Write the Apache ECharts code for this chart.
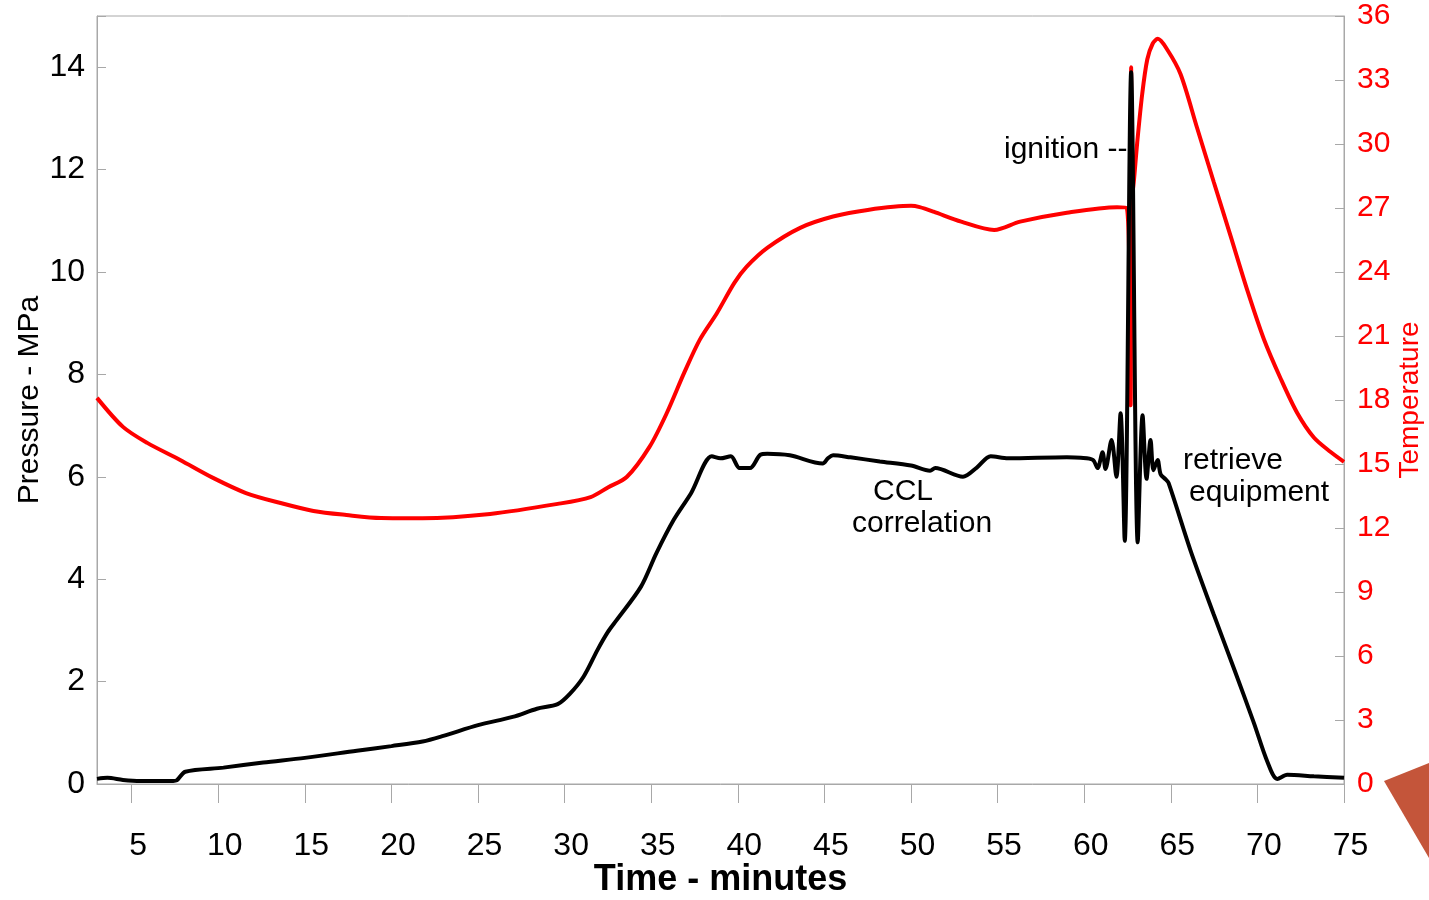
<!DOCTYPE html>
<html lang="en">

<head>
    <meta http-equiv="Content-Type" content="text/html;charset=UTF-8">
    <title>pressure and temperature</title>
    <script src="https://cdn.jsdelivr.net/npm/echarts@6/dist/echarts.min.js"></script>
    <style type="text/css">
        body {
            margin: 0;
        }

        #main {
            height: 900px;
            width: 1429px;
        }
    </style>
</head>

<body>
    <div id="main"></div>
</body>
<script>
    // minutes / MPa, black line
    var pressureTime = [3.0, 3.6, 4.5, 5.5, 7.4, 7.6, 8.1, 10.3, 12.6, 15.0, 18.0, 20.0, 21.8, 23.0, 25.0, 27.0, 28.4, 29.6, 30.3, 31.1,
        31.9, 32.5, 33.0, 34.4, 35.3, 36.3, 37.3, 38.5, 39.0, 39.6, 40.1, 40.7, 41.3, 41.7, 43.0, 44.9, 45.2, 45.5, 46.5, 48.2,
        50.0, 51.1, 51.4, 53.0, 53.8, 54.6, 55.6, 59.0, 59.8, 60.5, 60.77, 61.06, 61.23, 61.58, 61.86, 62.1, 62.34, 62.71, 63.09, 63.37,
        63.6, 63.83, 64.0, 64.24, 64.41, 64.7, 64.87, 66.14, 67.48, 68.64, 69.79, 70.57, 71.15, 71.72, 73.26, 75.0];
    var pressureVal = [0.10, 0.12, 0.08, 0.06, 0.06, 0.07, 0.24, 0.32, 0.42, 0.51, 0.65, 0.74, 0.83, 0.94, 1.15, 1.31, 1.47, 1.56, 1.76, 2.10,
        2.62, 2.97, 3.20, 3.85, 4.51, 5.16, 5.68, 6.40, 6.36, 6.40, 6.17, 6.17, 6.43, 6.45, 6.42, 6.26, 6.36, 6.42, 6.38, 6.30,
        6.22, 6.12, 6.17, 6.00, 6.18, 6.40, 6.36, 6.38, 6.37, 6.33, 6.17, 6.48, 6.15, 6.72, 6.00, 7.24, 4.75, 13.9, 4.72, 7.20,
        5.96, 6.72, 6.13, 6.33, 6.05, 5.95, 5.88, 4.56, 3.31, 2.26, 1.20, 0.44, 0.10, 0.18, 0.15, 0.12];

    // minutes / temperature, red line
    var tempTime = [3.0, 4.5, 5.9, 7.8, 9.7, 11.6, 13.6, 15.5, 17.4, 19.4, 21.8, 25.7, 29.6, 31.5, 32.5, 33.6, 34.9, 35.9, 36.9, 37.8,
        38.8, 39.8, 40.5, 41.7, 43.6, 45.5, 47.5, 50.0, 50.5, 51.3, 52.9, 54.8, 56.3, 59.0, 61.9, 62.45, 62.68, 62.71, 62.75, 62.86,
        63.06, 63.35, 63.64, 63.95, 64.25, 64.79, 65.56, 66.52, 67.48, 68.45, 69.41, 70.37, 71.34, 72.3, 73.26, 74.23, 75.0];
    var tempVal = [18.1, 16.74, 15.99, 15.19, 14.35, 13.64, 13.17, 12.8, 12.61, 12.47, 12.46, 12.66, 13.13, 13.45, 13.9, 14.4, 15.8, 17.39, 19.27, 20.82,
        22.08, 23.49, 24.24, 25.13, 26.07, 26.6, 26.91, 27.1, 27.04, 26.83, 26.36, 25.97, 26.36, 26.78, 27.04, 27.02, 17.75, 33.6, 27.5, 28.2,
        30.06, 32.35, 33.96, 34.7, 34.93, 34.43, 33.28, 30.75, 28.22, 25.69, 23.16, 20.86, 19.01, 17.39, 16.24, 15.56, 15.1];

    var timeTicks = [5, 10, 15, 20, 25, 30, 35, 40, 45, 50, 55, 60, 65, 70, 75];

    var zip = function (xs, ys) {
        var res = [];
        for (var i = 0; i < xs.length; i++) {
            res.push([xs[i], ys[i]]);
        }
        return res;
    };

    var font = 'Liberation Sans, Arial, Helvetica, sans-serif';
    var axisGray = '#a8a8a8';

    option = {
        backgroundColor: '#fff',
        animation: false,
        textStyle: {
            fontFamily: font
        },
        grid: {
            left: 97,
            right: 85,
            top: 16,
            bottom: 116,
            outerBoundsMode: 'none',
            show: true,
            borderColor: axisGray,
            borderWidth: 1
        },
        xAxis: {
            type: 'value',
            min: 3,
            max: 75,
            name: 'Time - minutes',
            nameLocation: 'middle',
            nameGap: 78,
            nameMoveOverlap: false,
            nameTextStyle: {
                fontSize: 36,
                fontWeight: 'bold',
                color: '#000'
            },
            axisLine: {
                show: true,
                lineStyle: { color: axisGray }
            },
            axisTick: {
                show: true,
                length: 19,
                customValues: timeTicks,
                lineStyle: { color: axisGray }
            },
            axisLabel: {
                customValues: timeTicks,
                fontSize: 32,
                color: '#000',
                margin: 46,
                padding: [0, 0, 0, 13]
            },
            splitLine: { show: false }
        },
        yAxis: [{
                type: 'value',
                min: 0,
                max: 15,
                interval: 2,
                name: 'Pressure - MPa',
                nameLocation: 'middle',
                nameGap: 52,
                nameMoveOverlap: false,
                nameRotate: 90,
                nameTextStyle: {
                    fontSize: 30,
                    color: '#000'
                },
                axisLine: {
                    show: true,
                    lineStyle: { color: axisGray }
                },
                axisTick: {
                    show: true,
                    inside: true,
                    length: 9,
                    lineStyle: { color: axisGray }
                },
                axisLabel: {
                    fontSize: 32,
                    color: '#000',
                    margin: 12,
                    padding: [8, 0, 0, 0],
                    formatter: function (v) {
                        return v % 2 === 0 ? v : '';
                    }
                },
                splitLine: { show: false }
            },
            {
                type: 'value',
                position: 'right',
                min: 0,
                max: 36,
                interval: 3,
                name: 'Temperature',
                nameLocation: 'middle',
                nameGap: 52,
                nameMoveOverlap: false,
                nameRotate: 90,
                nameTextStyle: {
                    fontSize: 28,
                    color: '#ff0000'
                },
                axisLine: {
                    show: true,
                    lineStyle: { color: axisGray }
                },
                axisTick: {
                    show: true,
                    inside: true,
                    length: 9,
                    lineStyle: { color: axisGray }
                },
                axisLabel: {
                    fontSize: 30,
                    color: '#ff0000',
                    margin: 13,
                    padding: [10, 0, 0, 0]
                },
                splitLine: { show: false }
            }
        ],
        graphic: [{
                type: 'text',
                left: 1004,
                top: 135,
                style: { text: 'ignition --', font: '30px ' + font, fill: '#000' }
            },
            {
                type: 'text',
                left: 873,
                top: 477,
                style: { text: 'CCL', font: '30px ' + font, fill: '#000' }
            },
            {
                type: 'text',
                left: 852,
                top: 509,
                style: { text: 'correlation', font: '30px ' + font, fill: '#000' }
            },
            {
                type: 'text',
                left: 1183,
                top: 446,
                style: { text: 'retrieve', font: '30px ' + font, fill: '#000' }
            },
            {
                type: 'text',
                left: 1189,
                top: 478,
                style: { text: 'equipment', font: '30px ' + font, fill: '#000' }
            },
            {
                type: 'polygon',
                shape: { points: [[1384, 781], [1429, 763], [1429, 858]] },
                style: { fill: '#c4553a' }
            }
        ],
        series: [{
                name: 'Temperature',
                type: 'line',
                yAxisIndex: 1,
                data: zip(tempTime, tempVal),
                showSymbol: false,
                smooth: 0.3,
                lineStyle: { color: '#ff0000', width: 4 }
            },
            {
                name: 'Pressure',
                type: 'line',
                yAxisIndex: 0,
                data: zip(pressureTime, pressureVal),
                showSymbol: false,
                smooth: 0.3,
                lineStyle: { color: '#000', width: 4 }
            }
        ]
    };

    var myChart = echarts.init(document.getElementById('main'));
    myChart.setOption(option);
</script>

</html>
